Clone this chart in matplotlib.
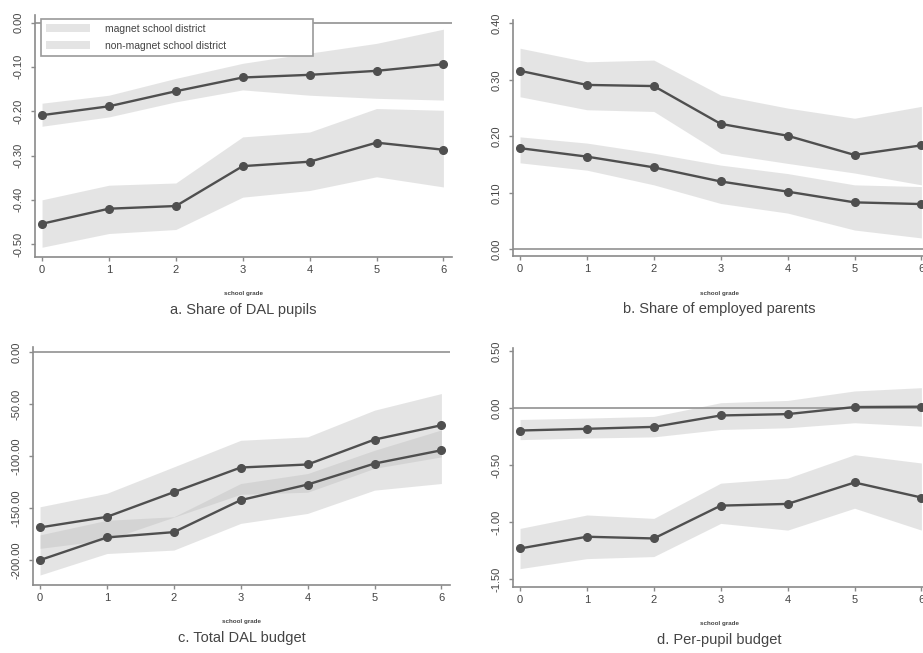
import matplotlib
matplotlib.use("Agg")
import matplotlib.pyplot as plt
from matplotlib.patches import Patch

plt.rcParams['font.family'] = ['Liberation Sans', 'DejaVu Sans']

grades = [0, 1, 2, 3, 4, 5, 6]
grade_labels = ["0", "1", "2", "3", "4", "5", "6"]
legend_labels = ["magnet school district", "non-magnet school district"]
x_label = "school grade"

# Panel a: Share of DAL pupils
a_top = [-0.209, -0.189, -0.155, -0.124, -0.118, -0.109, -0.094]
a_top_hi = [-0.182, -0.164, -0.126, -0.092, -0.069, -0.047, -0.015]
a_top_lo = [-0.234, -0.213, -0.179, -0.152, -0.164, -0.171, -0.175]
a_bot = [-0.454, -0.420, -0.414, -0.324, -0.314, -0.271, -0.287]
a_bot_hi = [-0.400, -0.367, -0.362, -0.258, -0.247, -0.194, -0.198]
a_bot_lo = [-0.507, -0.476, -0.467, -0.394, -0.379, -0.348, -0.371]
a_yticks = [0.0, -0.1, -0.2, -0.3, -0.4, -0.5]
a_ylabels = ["0.00", "-0.10", "-0.20", "-0.30", "-0.40", "-0.50"]
a_title = "a. Share of DAL pupils"

# Panel b: Share of employed parents
b_top = [0.316, 0.291, 0.289, 0.222, 0.201, 0.167, 0.184]
b_top_hi = [0.356, 0.332, 0.335, 0.273, 0.250, 0.232, 0.253]
b_top_lo = [0.270, 0.247, 0.244, 0.170, 0.152, 0.135, 0.114]
b_bot = [0.179, 0.164, 0.145, 0.120, 0.102, 0.083, 0.080]
b_bot_hi = [0.199, 0.188, 0.170, 0.149, 0.134, 0.114, 0.111]
b_bot_lo = [0.153, 0.140, 0.114, 0.081, 0.064, 0.034, 0.020]
b_yticks = [0.0, 0.1, 0.2, 0.3, 0.4]
b_ylabels = ["0.00", "0.10", "0.20", "0.30", "0.40"]
b_title = "b. Share of employed parents"

# Panel c: Total DAL budget
c_top = [-168.9, -158.7, -134.9, -111.2, -108.3, -84.3, -70.5]
c_top_hi = [-149.0, -136.0, -110.6, -85.0, -81.7, -56.0, -40.0]
c_top_lo = [-189.0, -181.0, -159.0, -137.0, -135.0, -112.0, -101.0]
c_bot = [-200.3, -178.5, -173.4, -142.6, -127.6, -107.4, -94.6]
c_bot_hi = [-176.0, -162.0, -158.6, -126.6, -117.0, -94.6, -75.0]
c_bot_lo = [-214.7, -194.0, -190.7, -165.0, -155.4, -133.0, -126.6]
c_yticks = [0.0, -50.0, -100.0, -150.0, -200.0]
c_ylabels = ["0.00", "-50.00", "-100.00", "-150.00", "-200.00"]
c_title = "c. Total DAL budget"

# Panel d: Per-pupil budget
d_top = [-0.194, -0.179, -0.162, -0.062, -0.050, 0.012, 0.015]
d_top_hi = [-0.097, -0.085, -0.070, 0.050, 0.070, 0.153, 0.182]
d_top_lo = [-0.274, -0.260, -0.250, -0.185, -0.170, -0.126, -0.156]
d_bot = [-1.229, -1.126, -1.141, -0.853, -0.838, -0.650, -0.782]
d_bot_hi = [-1.053, -0.935, -0.965, -0.656, -0.612, -0.406, -0.479]
d_bot_lo = [-1.406, -1.318, -1.300, -1.009, -1.068, -0.876, -1.068]
d_yticks = [0.5, 0.0, -0.5, -1.0, -1.5]
d_ylabels = ["0.50", "0.00", "-0.50", "-1.00", "-1.50"]
d_title = "d. Per-pupil budget"

W, H = 923, 653
fig = plt.figure(figsize=(W / 100, H / 100), dpi=100)

LINE = '#4f4f4f'
BAND = '#bdbdbd'
BAND_ALPHA = 0.4
AXC = '#8a8a8a'
TXT = '#444444'


def px_rect(l, t, r, b):
    return [l / W, 1 - b / H, (r - l) / W, (b - t) / H]


panels = [
    dict(box=(35, 15, 452, 257), ylim=(-0.529, 0.017), top=a_top, top_hi=a_top_hi, top_lo=a_top_lo,
         bot=a_bot, bot_hi=a_bot_hi, bot_lo=a_bot_lo, yt=a_yticks, yl=a_ylabels, title=a_title, legend=True),
    dict(box=(513, 20, 930, 256), ylim=(-0.012, 0.406), top=b_top, top_hi=b_top_hi, top_lo=b_top_lo,
         bot=b_bot, bot_hi=b_bot_hi, bot_lo=b_bot_lo, yt=b_yticks, yl=b_ylabels, title=b_title, legend=False),
    dict(box=(33, 347, 450, 585), ylim=(-224.3, 4.8), top=c_top, top_hi=c_top_hi, top_lo=c_top_lo,
         bot=c_bot, bot_hi=c_bot_hi, bot_lo=c_bot_lo, yt=c_yticks, yl=c_ylabels, title=c_title, legend=False),
    dict(box=(513, 348, 930, 587), ylim=(-1.567, 0.53), top=d_top, top_hi=d_top_hi, top_lo=d_top_lo,
         bot=d_bot, bot_hi=d_bot_hi, bot_lo=d_bot_lo, yt=d_yticks, yl=d_ylabels, title=d_title, legend=False),
]

for p in panels:
    l, t, r, b = p['box']
    ax = fig.add_axes(px_rect(l, t, r, b))
    ax.fill_between(grades, p['bot_lo'], p['bot_hi'], color=BAND, alpha=BAND_ALPHA, lw=0, zorder=1)
    ax.fill_between(grades, p['top_lo'], p['top_hi'], color=BAND, alpha=BAND_ALPHA, lw=0, zorder=1)
    ax.axhline(0, color='#9a9a9a', lw=1.3, zorder=2)
    for ser in (p['top'], p['bot']):
        ax.plot(grades, ser, color=LINE, lw=1.7, marker='o', markersize=5.5,
                markerfacecolor=LINE, markeredgecolor=LINE, zorder=3)
    ax.set_xlim(-0.105, -0.105 + (r - l) / 66.9)
    ax.set_ylim(*p['ylim'])
    ax.set_xticks(grades)
    ax.set_xticklabels(grade_labels)
    ax.set_yticks(p['yt'])
    ax.set_yticklabels(p['yl'], rotation=90, va='center')
    for s in ('top', 'right'):
        ax.spines[s].set_visible(False)
    for s in ('left', 'bottom'):
        ax.spines[s].set_color(AXC)
        ax.spines[s].set_linewidth(1.2)
    ax.tick_params(axis='both', direction='out', length=3, width=1, color=AXC,
                   labelsize=8, labelcolor=TXT, pad=3)
    ax.tick_params(axis='y', pad=5)
    ax.set_facecolor('none')
    cx = (l + min(r, 925)) / 2
    if p['legend']:
        handles = [Patch(facecolor=BAND, alpha=BAND_ALPHA, edgecolor='none'),
                   Patch(facecolor=BAND, alpha=BAND_ALPHA, edgecolor='none')]
        bx0 = (41 - l) / (r - l)
        bw = (313 - 41) / (r - l)
        by_top = (b - 19) / (b - t)
        bh = (63 - 19) / (b - t)
        leg = ax.legend(handles, legend_labels, loc='upper left',
                        bbox_to_anchor=(bx0, by_top - bh, bw, bh), mode='expand',
                        fontsize=7.5, frameon=True, fancybox=False, framealpha=1,
                        edgecolor='#9a9a9a', handlelength=4.3, handleheight=0.8,
                        handletextpad=1.4, borderpad=0.45, labelspacing=0.7,
                        borderaxespad=0)
        leg.get_frame().set_linewidth(1.2)
        for txt in leg.get_texts():
            txt.set_color(TXT)
    fig.text(cx / W, 1 - (b + 37) / H, x_label, ha='center', va='center',
             fontsize=4.5, fontweight='bold', color=TXT)
    fig.text(cx / W, 1 - (b + 53) / H, p['title'], ha='center', va='center',
             fontsize=10.5, color=TXT)

fig.savefig('out.png', dpi=100, facecolor='white')
